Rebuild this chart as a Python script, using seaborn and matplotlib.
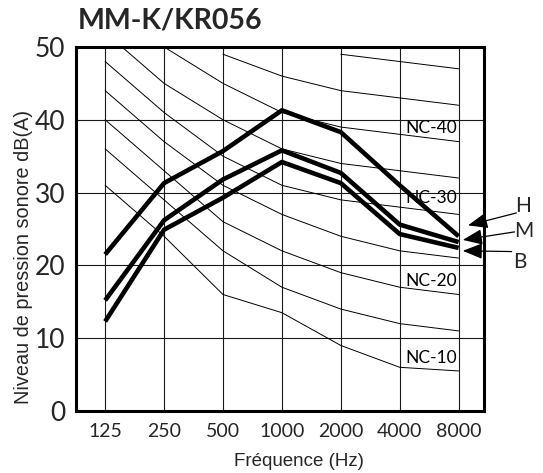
import numpy as np
import pandas as pd
import matplotlib
matplotlib.use("Agg")
import matplotlib.pyplot as plt
import seaborn as sns

# ---------------- data ----------------
title = "MM-K/KR056"
freqs = ["125", "250", "500", "1000", "2000", "4000", "8000"]
y_ticks = [0, 10, 20, 30, 40, 50]
xlabel = "Fréquence (Hz)"
ylabel = "Niveau de pression sonore dB(A)"

# operating modes (thick curves)
mode_names = ["H", "M", "B"]
H = [21.5, 31.3, 35.7, 41.3, 38.3, 31.0, 24.0]
M = [15.2, 26.2, 31.8, 35.8, 32.7, 25.6, 23.2]
B = [12.3, 24.9, 29.3, 34.2, 31.3, 24.3, 22.4]

# NC reference curves (thin)
nan = np.nan
nc10 = [31, 24, 16, 13.5, 9, 6, 5.5]
nc15 = [36, 29, 22, 17, 14, 12, 11]
nc20 = [40, 33, 26, 22, 19, 17, 16]
nc25 = [44, 37, 31, 27, 24, 22, 21]
nc30 = [48, 41, 35, 31, 29, 28, 27]
nc35 = [52, 45, 40, 36, 34, 33, 32]
nc40 = [56, 50, 45, 41, 39, 38, 37]
nc45 = [nan, nan, 49, 46, 44, 43, 42]
nc50 = [nan, nan, nan, nan, 49, 48, 47]
nc_labels = ["NC-40", "NC-30", "NC-20", "NC-10"]

# ---------------- frames ----------------
pos = list(range(len(freqs)))
nc_curves = {"NC-10": nc10, "NC-15": nc15, "NC-20": nc20, "NC-25": nc25,
             "NC-30": nc30, "NC-35": nc35, "NC-40": nc40, "NC-45": nc45,
             "NC-50": nc50}
nc_df = pd.DataFrame([(name, p, v) for name, vals in nc_curves.items()
                      for p, v in zip(pos, vals)],
                     columns=["curve", "pos", "level"]).dropna()
modes = {"H": H, "M": M, "B": B}
mode_df = pd.DataFrame([(name, p, v) for name, vals in modes.items()
                        for p, v in zip(pos, vals)],
                       columns=["mode", "pos", "level"])

# ---------------- style ----------------
sns.set_theme(style="white")
plt.rcParams["font.family"] = ["Lato", "DejaVu Sans"]

fig = plt.figure(figsize=(5.43, 4.73), dpi=100)
ax = fig.add_axes([0.1405, 0.1311, 0.7508, 0.7696])

# grid
for p in pos:
    ax.axvline(p, color="#1a1a1a", lw=0.8, zorder=1)
for yv in y_ticks[1:-1]:
    ax.axhline(yv, color="#1a1a1a", lw=0.8, zorder=1)

sns.lineplot(data=nc_df, x="pos", y="level", units="curve", estimator=None,
             color="black", lw=0.7, ax=ax, zorder=2, legend=False)
sns.lineplot(data=mode_df, x="pos", y="level", units="mode", estimator=None,
             color="black", lw=3.3, ax=ax, zorder=4, legend=False,
             solid_capstyle="butt")

ax.set_xlim(-0.49, 6.43)
ax.set_ylim(0, 50)
ax.set_xticks(pos)
ax.set_xticklabels(freqs, fontsize=14)
ax.set_yticks(y_ticks)
ax.set_yticklabels([str(v) for v in y_ticks], fontsize=19)
ax.tick_params(axis="both", length=0)
ax.tick_params(axis="x", pad=9)
ax.tick_params(axis="y", pad=8)
ax.set_xlabel("")
ax.set_ylabel("")
for s in ax.spines.values():
    s.set_visible(True)
    s.set_color("black")
    s.set_linewidth(2.2)

# NC labels
nc_label_y = [38.2, 28.5, 17.2, 6.6]
for lab, yv in zip(nc_labels, nc_label_y):
    ax.text(5.09, yv, lab, fontsize=12.5, ha="left", va="baseline",
            color="black", zorder=3)

# mode arrows
arrow_tips = [(6.16, 25.5), (6.07, 23.5), (6.07, 22.0)]
arrow_tails = [(6.98, 27.2), (6.95, 24.6), (6.90, 21.9)]
label_pos = [(7.09, 28.2), (7.11, 24.75), (7.04, 20.5)]
for name, tip, tail, lp in zip(mode_names, arrow_tips, arrow_tails, label_pos):
    ax.annotate("", xy=tip, xytext=tail, xycoords="data",
                arrowprops=dict(arrowstyle="-|>,head_length=1.0,head_width=0.4",
                                mutation_scale=12, lw=0.9, color="black",
                                shrinkA=0, shrinkB=0),
                annotation_clip=False, zorder=5)
    ax.text(lp[0], lp[1], name, fontsize=15, ha="center", va="center",
            clip_on=False)

fig.text(0.1436, 1 - 29 / 473, title, fontsize=20.5, fontweight="bold",
         ha="left", va="baseline")
fig.text(299 / 543, 1 - 461 / 473, xlabel, fontsize=13.5, ha="center",
         va="center", family=["Liberation Sans", "DejaVu Sans"])
fig.text(24 / 543, 1 - 256.5 / 473, ylabel, fontsize=14.3, ha="center",
         va="center", rotation=90, family=["Liberation Sans", "DejaVu Sans"])

fig.savefig("out.png", dpi=100)
